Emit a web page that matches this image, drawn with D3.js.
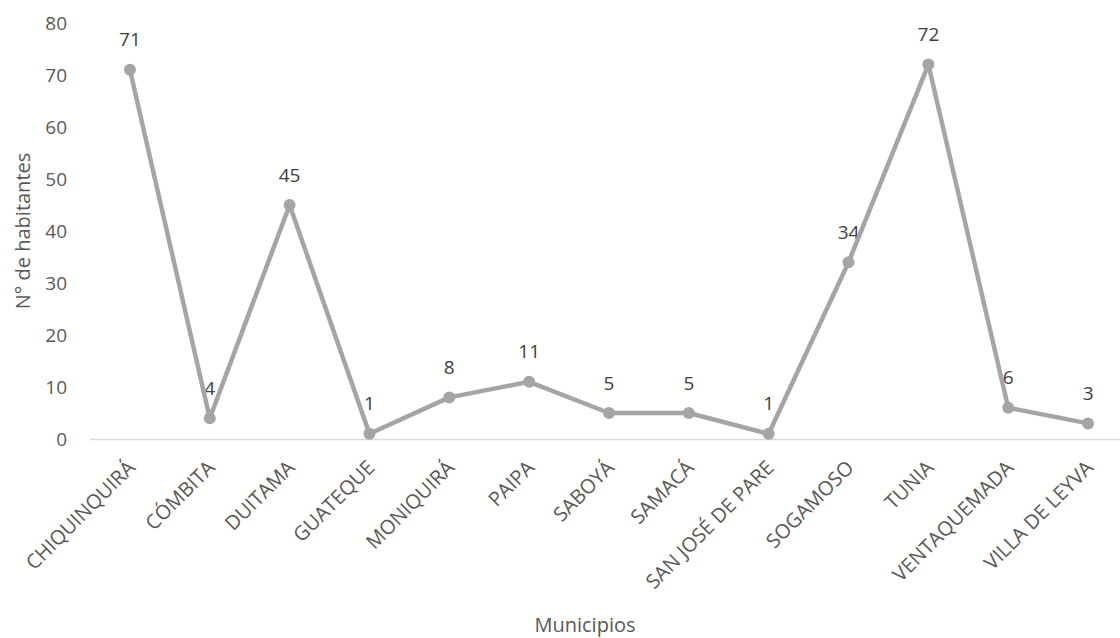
<!DOCTYPE html>
<html>
<head>
<meta charset="utf-8">
<script src="https://cdn.jsdelivr.net/npm/d3@7/dist/d3.min.js"></script>
<style>
  html, body { margin: 0; padding: 0; background: #fff; }
  svg { display: block; font-family: "Open Sans", sans-serif; }
</style>
</head>
<body>
<svg id="chart" width="1120" height="638"></svg>
<script>
// Municipalities (x categories)
const municipios = [
  "CHIQUINQUIRÁ", "CÓMBITA", "DUITAMA", "GUATEQUE", "MONIQUIRÁ", "PAIPA",
  "SABOYÁ", "SAMACÁ", "SAN JOSÉ DE PARE", "SOGAMOSO", "TUNIA",
  "VENTAQUEMADA", "VILLA DE LEYVA"
];
// Number of inhabitants per municipality
const habitantes = [71, 4, 45, 1, 8, 11, 5, 5, 1, 34, 72, 6, 3];
// Y axis ticks
const yTicks = [0, 10, 20, 30, 40, 50, 60, 70, 80];

const svg = d3.select("#chart");
const W = 1120, H = 638;
const plotLeft = 90, plotRight = 1128, plotTop = 23, plotBottom = 439;

const x = d3.scalePoint()
  .domain(municipios)
  .range([plotLeft, plotRight])
  .padding(0.5);

const y = d3.scaleLinear()
  .domain([0, 80])
  .range([plotBottom, plotTop]);

const textColor = "#595959";
const lineColor = "#A5A5A5";

// Y axis (labels only)
const yAxis = d3.axisLeft(y).tickValues(yTicks).tickSize(0).tickPadding(0);
const gy = svg.append("g")
  .attr("transform", `translate(67,0)`)
  .call(yAxis);
gy.select(".domain").remove();
gy.selectAll("text")
  .attr("fill", textColor)
  .style("font-size", "19px")
  .style("font-family", "'Open Sans', sans-serif");

// X baseline and category labels
const xAxis = d3.axisBottom(x).tickSize(0).tickPadding(0);
const gx = svg.append("g")
  .attr("transform", `translate(0,${plotBottom})`)
  .call(xAxis);
gx.select(".domain")
  .attr("stroke", "#d9d9d9")
  .attr("stroke-width", 1.5)
  .attr("d", `M${plotLeft},0.5H${W}`);
gx.selectAll(".tick text")
  .attr("fill", textColor)
  .style("font-size", "20px")
  .style("font-family", "'Open Sans', sans-serif")
  .attr("text-anchor", "end")
  .attr("dy", "0.35em")
  .attr("transform", "translate(1,25) rotate(-45)");

// Data labels (drawn beneath the line)
svg.append("g")
  .selectAll("text")
  .data(habitantes)
  .join("text")
  .attr("x", (d, i) => x(municipios[i]))
  .attr("y", d => y(d) - 30)
  .attr("dy", "0.35em")
  .attr("text-anchor", "middle")
  .attr("fill", "#404040")
  .style("font-size", "19px")
  .text(d => d);

// Series line
const line = d3.line()
  .x((d, i) => x(municipios[i]))
  .y(d => y(d));

svg.append("path")
  .datum(habitantes)
  .attr("fill", "none")
  .attr("stroke", lineColor)
  .attr("stroke-width", 4.5)
  .attr("stroke-linejoin", "round")
  .attr("d", line);

// Markers
svg.append("g")
  .selectAll("circle")
  .data(habitantes)
  .join("circle")
  .attr("cx", (d, i) => x(municipios[i]))
  .attr("cy", d => y(d))
  .attr("r", 6)
  .attr("fill", lineColor);

// Axis titles
svg.append("text")
  .attr("transform", `translate(23,${(plotTop + plotBottom) / 2}) rotate(-90)`)
  .attr("text-anchor", "middle")
  .attr("dy", "0.35em")
  .attr("fill", textColor)
  .style("font-size", "20px")
  .text("N° de habitantes");

svg.append("text")
  .attr("x", 585)
  .attr("y", 625)
  .attr("text-anchor", "middle")
  .attr("dy", "0.35em")
  .attr("fill", textColor)
  .style("font-size", "20px")
  .text("Municipios");
</script>
</body>
</html>
